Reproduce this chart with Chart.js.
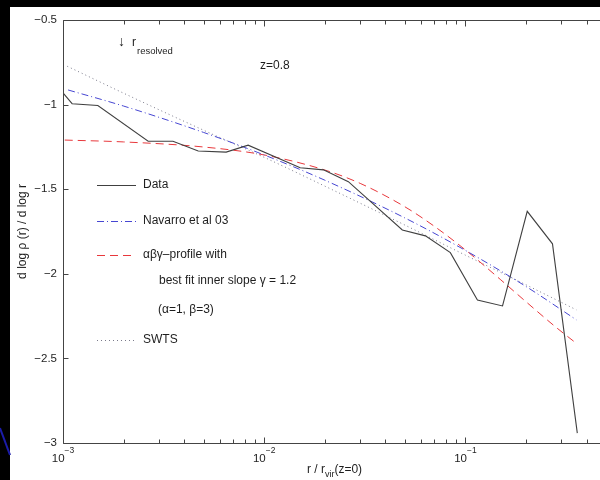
<!DOCTYPE html>
<html>
<head>
<meta charset="utf-8">
<script src="https://cdn.jsdelivr.net/npm/chart.js@4.4.1/dist/chart.umd.min.js"></script>
<style>
  html,body{margin:0;padding:0;}
  body{background:#000;width:600px;height:480px;overflow:hidden;position:relative;}
  #wrap{position:absolute;left:10px;top:7px;width:590px;height:473px;overflow:hidden;background:#fff;}
  #c{display:block;}
  #deco{position:absolute;left:0;top:0;}
</style>
</head>
<body>
<div id="wrap"><canvas id="c" width="610" height="473"></canvas></div>
<svg id="deco" width="12" height="480"><line x1="0" y1="428" x2="10" y2="455" stroke="#1c1ca8" stroke-width="2"/></svg>
<script>
// ---- data ----
const dataR     = [1.0e-3, 1.11e-3, 1.49e-3, 2.65e-3, 3.52e-3, 4.70e-3, 6.47e-3, 8.32e-3, 0.0151, 0.0197, 0.0262, 0.0486, 0.0633, 0.0842, 0.1148, 0.153, 0.203, 0.271, 0.360];
const dataSlope = [-0.931, -0.995, -1.006, -1.217, -1.217, -1.275, -1.281, -1.240, -1.374, -1.386, -1.456, -1.741, -1.776, -1.875, -2.155, -2.190, -1.631, -1.823, -2.942];

const navR      = [1.06e-3, 2e-3, 5e-3, 1e-2, 2e-2, 5e-2, 0.1, 0.2, 0.356];
const navSlope  = [-0.914, -1.009, -1.165, -1.298, -1.447, -1.670, -1.862, -2.075, -2.272];

const abgR      = [1.02e-3, 2e-3, 5e-3, 1e-2, 2e-2, 3e-2, 5e-2, 7e-2, 0.1, 0.15, 0.2, 0.28, 0.356];
const abgSlope  = [-1.210, -1.221, -1.251, -1.298, -1.387, -1.466, -1.604, -1.719, -1.859, -2.036, -2.165, -2.313, -2.411];

const swtsR     = [1.05e-3, 2e-3, 5e-3, 1e-2, 2e-2, 5e-2, 0.1, 0.2, 0.356];
const swtsSlope = [-0.774, -0.933, -1.152, -1.312, -1.482, -1.712, -1.890, -2.065, -2.213];

const xMajorTicks = [1e-3, 1e-2, 1e-1];
const xTickExps   = ['\u22123', '\u22122', '\u22121'];
const yTicks      = [-3, -2.5, -2, -1.5, -1, -0.5];
const yTickLabels = ['\u22123', '\u22122.5', '\u22122', '\u22121.5', '\u22121', '\u22120.5'];
const xMin = 1e-3, xMax = 0.5, yMin = -3, yMax = -0.5;

const seriesNames = ['Data', 'Navarro et al 03', '\u03b1\u03b2\u03b3\u2013profile with', 'SWTS'];

// ---- styles ----
const FONT = '"Liberation Sans", Arial, Helvetica, sans-serif';
const INK = '#1e1e1e';
const AXIS = '#444';
const cData = '#404040', cNav = '#4646d2', cAbg = '#e8383c', cSwts = '#7a7a8a';
const dNav = [7, 3, 1, 3], dAbg = [8, 5], dSwts = [1, 3];

const pts = (xs, ys) => xs.map((v, i) => ({x: v, y: ys[i]}));

const matlabPlugin = {
  id: 'matlab',
  afterDraw(chart) {
    const {ctx, chartArea: a, scales: {x, y}} = chart;
    ctx.save();
    // box
    ctx.strokeStyle = AXIS; ctx.lineWidth = 1; ctx.setLineDash([]);
    const L = Math.round(a.left) + 0.5, R = Math.round(a.right) + 0.5,
          T = Math.round(a.top) + 0.5, B = Math.round(a.bottom) + 0.5;
    ctx.beginPath();
    ctx.moveTo(L, T); ctx.lineTo(L, B); ctx.lineTo(R, B); ctx.lineTo(R, T); ctx.closePath();
    // x ticks (inward, top and bottom)
    for (const d of xMajorTicks) {
      for (let m = 1; m <= 9; m++) {
        const v = m * d;
        if (v < xMin * 0.999 || v > xMax * 1.001) continue;
        const px = Math.round(x.getPixelForValue(v)) + 0.5;
        const len = m === 1 ? 6 : 4;
        ctx.moveTo(px, B); ctx.lineTo(px, B - len);
        ctx.moveTo(px, T); ctx.lineTo(px, T + len);
      }
    }
    // y ticks
    for (const v of yTicks) {
      const py = Math.round(y.getPixelForValue(v)) + 0.5;
      ctx.moveTo(L, py); ctx.lineTo(L + 5, py);
      ctx.moveTo(R, py); ctx.lineTo(R - 5, py);
    }
    ctx.stroke();

    ctx.fillStyle = INK;
    ctx.textBaseline = 'middle';
    ctx.textAlign = 'left';
    // x tick labels 10^n
    xMajorTicks.forEach((v, i) => {
      const px = x.getPixelForValue(v);
      ctx.font = '11.5px ' + FONT;
      const w1 = ctx.measureText('10').width;
      ctx.font = '8.5px ' + FONT;
      const w2 = ctx.measureText(xTickExps[i]).width;
      const s = px - (w1 + w2) / 2;
      ctx.font = '11.5px ' + FONT;
      ctx.fillText('10', s, a.bottom + 16);
      ctx.font = '8.5px ' + FONT;
      ctx.fillText(xTickExps[i], s + w1, a.bottom + 8);
    });
    // x axis title: r / r_vir(z=0)
    {
      const cx = (a.left + a.right) / 2;
      ctx.font = '12px ' + FONT;
      const t1 = 'r / r', t3 = '(z=0)';
      const w1 = ctx.measureText(t1).width, w3 = ctx.measureText(t3).width;
      ctx.font = '9px ' + FONT;
      const w2 = ctx.measureText('vir').width;
      let s = cx - (w1 + w2 + w3) / 2;
      const yy = a.bottom + 27;
      ctx.font = '12px ' + FONT; ctx.fillText(t1, s, yy);
      ctx.font = '9px ' + FONT; ctx.fillText('vir', s + w1, yy + 5);
      ctx.font = '12px ' + FONT; ctx.fillText(t3, s + w1 + w2, yy);
    }
    // annotations
    ctx.font = '14px ' + FONT;
    ctx.fillText('\u2193', 108, 35);
    ctx.font = '12px ' + FONT;
    ctx.fillText('r', 122, 36);
    ctx.font = '9.5px ' + FONT;
    ctx.fillText('resolved', 127, 44);
    ctx.font = '12px ' + FONT;
    ctx.fillText('z=0.8', 250, 59);

    // legend (inside axes)
    const lx0 = 87, lx1 = 126, tx = 133;
    const rows = [
      {y: 178, c: cData, d: [], t: seriesNames[0]},
      {y: 214, c: cNav, d: dNav, t: seriesNames[1]},
      {y: 248, c: cAbg, d: dAbg, t: seriesNames[2]},
      {y: 333, c: cSwts, d: dSwts, t: seriesNames[3]}
    ];
    ctx.lineWidth = 1;
    for (const r of rows) {
      ctx.strokeStyle = r.c; ctx.setLineDash(r.d);
      ctx.beginPath(); ctx.moveTo(lx0, r.y + 0.5); ctx.lineTo(lx1, r.y + 0.5); ctx.stroke();
      ctx.setLineDash([]);
      ctx.font = '12px ' + FONT; ctx.fillStyle = INK;
      ctx.fillText(r.t, tx, r.y);
    }
    ctx.fillText('best fit inner slope \u03b3 = 1.2', 149, 274);
    ctx.fillText('(\u03b1=1, \u03b2=3)', 148, 303);
    ctx.restore();
  }
};

new Chart(document.getElementById('c'), {
  type: 'line',
  data: {
    datasets: [
      {label: seriesNames[0], data: pts(dataR, dataSlope), borderColor: cData, borderWidth: 1.1, tension: 0},
      {label: seriesNames[1], data: pts(navR, navSlope), borderColor: cNav, borderWidth: 1, borderDash: dNav, cubicInterpolationMode: 'monotone'},
      {label: seriesNames[2], data: pts(abgR, abgSlope), borderColor: cAbg, borderWidth: 1, borderDash: dAbg, cubicInterpolationMode: 'monotone'},
      {label: seriesNames[3], data: pts(swtsR, swtsSlope), borderColor: cSwts, borderWidth: 1, borderDash: dSwts, cubicInterpolationMode: 'monotone'}
    ]
  },
  options: {
    responsive: false,
    animation: false,
    devicePixelRatio: 1,
    parsing: true,
    elements: {point: {radius: 0, hoverRadius: 0}, line: {fill: false}},
    layout: {padding: {left: 0, top: 7, right: 14, bottom: 0}},
    plugins: {legend: {display: false}, tooltip: {enabled: false}},
    scales: {
      x: {
        type: 'logarithmic', min: xMin, max: xMax,
        grid: {display: false, drawTicks: false},
        border: {display: false},
        ticks: {display: false},
        afterFit: s => { s.height = 37; }
      },
      y: {
        type: 'linear', min: yMin, max: yMax,
        grid: {display: false, drawTicks: false},
        border: {display: false},
        afterBuildTicks: s => { s.ticks = yTicks.map(v => ({value: v})); },
        ticks: {
          padding: 6, color: INK,
          font: {family: FONT, size: 11.5},
          callback: (v) => { const i = yTicks.indexOf(v); return i >= 0 ? yTickLabels[i] : ''; }
        },
        title: {display: true, text: 'd log \u03c1 (r) / d log r', color: INK,
                font: {family: FONT, size: 12}, padding: {top: 5, bottom: 0}},
        afterFit: s => { s.width = 53; }
      }
    }
  },
  plugins: [matlabPlugin]
});
</script>
</body>
</html>
